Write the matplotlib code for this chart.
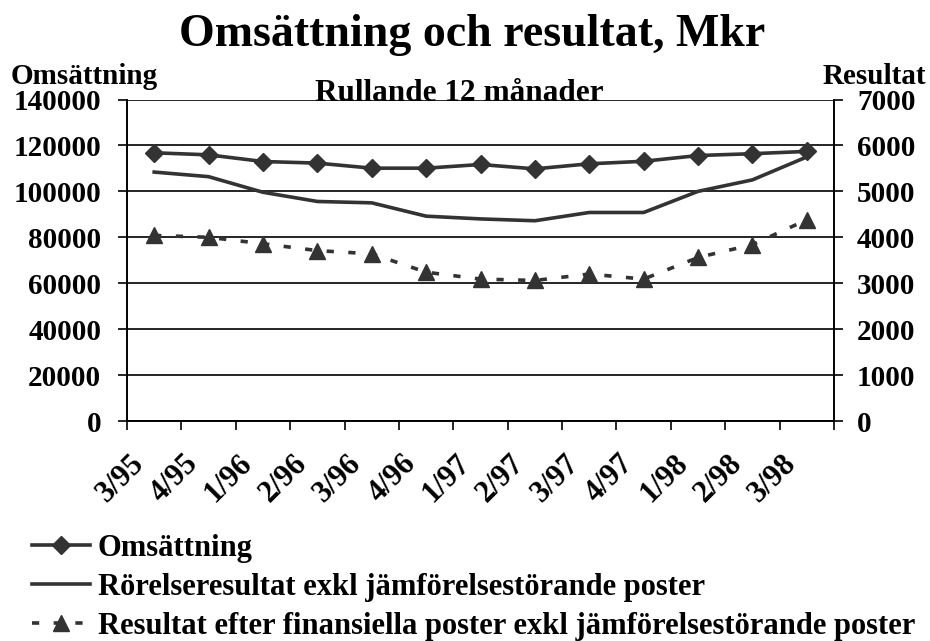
import matplotlib.pyplot as plt
import matplotlib.transforms as mtransforms

# Data
perioder = ['3/95', '4/95', '1/96', '2/96', '3/96', '4/96', '1/97',
            '2/97', '3/97', '4/97', '1/98', '2/98', '3/98']
omsattning = [116800, 115900, 113000, 112300, 110100, 110100, 111700,
              109800, 112000, 113100, 115600, 116400, 117400]
rorelseresultat = [5420, 5320, 4980, 4780, 4750, 4460, 4400,
                   4360, 4540, 4540, 5000, 5250, 5750]
resultat_fin = [4040, 4000, 3860, 3710, 3640, 3240, 3090,
                3060, 3200, 3090, 3560, 3840, 4380]

plt.rcParams['font.family'] = ['Liberation Serif', 'DejaVu Serif']
plt.rcParams['font.weight'] = 'bold'

farg = '#333333'

fig = plt.figure(figsize=(9.3, 6.41), dpi=100)
ax = fig.add_axes([127 / 930, 1 - 421 / 641, (834 - 127) / 930, (421 - 99.5) / 641])
ax2 = ax.twinx()

x = list(range(len(perioder)))

l1, = ax.plot(x, omsattning, color=farg, lw=2.6, marker='D', ms=9.5,
              label='Omsättning', zorder=3)
l2, = ax2.plot(x, rorelseresultat, color=farg, lw=2.6,
               label='Rörelseresultat exkl jämförelsestörande poster')
l3, = ax2.plot(x, resultat_fin, color=farg, lw=2.6, marker='^', ms=11.5,
               dashes=(2, 4),
               label='Resultat efter finansiella poster exkl jämförelsestörande poster')

ax.set_ylim(0, 140000)
ax2.set_ylim(0, 7000)
ax.set_yticks(range(0, 140001, 20000))
ax2.set_yticks(range(0, 7001, 1000))
ax.set_xlim(-0.5, len(perioder) - 0.5)

# kategorigränser som tickmarkeringar, etiketter i mitten
ax.set_xticks([i - 0.5 for i in range(len(perioder) + 1)])
ax.set_xticklabels([])
ax.set_xticks(x, minor=True)
ax.set_xticklabels(perioder, minor=True, rotation=45, ha='right',
                   rotation_mode='anchor', fontsize=22, fontweight='bold')
ax.tick_params(axis='x', which='minor', length=0, pad=20)
ax.tick_params(axis='x', which='major', length=6.5, width=1.2, color='black')
skift = mtransforms.ScaledTranslation(-0.25, 0, fig.dpi_scale_trans)
for lab in ax.get_xticklabels(minor=True):
    lab.set_transform(lab.get_transform() + skift)

ax.tick_params(axis='y', length=6.5, width=1.2, labelsize=21, pad=12)
ax2.tick_params(axis='y', length=6.5, width=1.2, labelsize=21, pad=10)
for lab in ax.get_yticklabels() + ax2.get_yticklabels():
    lab.set_fontweight('bold')

ax.grid(axis='y', color='black', lw=1.2)
ax.set_axisbelow(True)
for sp in ['left', 'right', 'bottom']:
    ax.spines[sp].set_linewidth(1.2)
    ax2.spines[sp].set_linewidth(1.2)
ax.spines['top'].set_visible(False)
ax2.spines['top'].set_visible(False)

fig.text(0.508, 1 - 46 / 641, 'Omsättning och resultat, Mkr', ha='center',
         va='baseline', fontsize=33, fontweight='bold')
fig.text(11 / 930, 1 - 84 / 641, 'Omsättning', ha='left', va='baseline',
         fontsize=21, fontweight='bold')
fig.text(926 / 930, 1 - 84 / 641, 'Resultat', ha='right', va='baseline',
         fontsize=21, fontweight='bold')
fig.text(459 / 930, 1 - 101 / 641, 'Rullande 12 månader', ha='center',
         va='baseline', fontsize=22.5, fontweight='bold')

fig.legend(handles=[l1, l2, l3], loc='upper left',
           bbox_to_anchor=(32 / 930, 1 - 534 / 641), frameon=False,
           handlelength=1.9, handletextpad=0.25,
           labelspacing=0.32, borderaxespad=0, borderpad=0,
           prop={'weight': 'bold', 'size': 22})

fig.savefig('out.png', dpi=100)
